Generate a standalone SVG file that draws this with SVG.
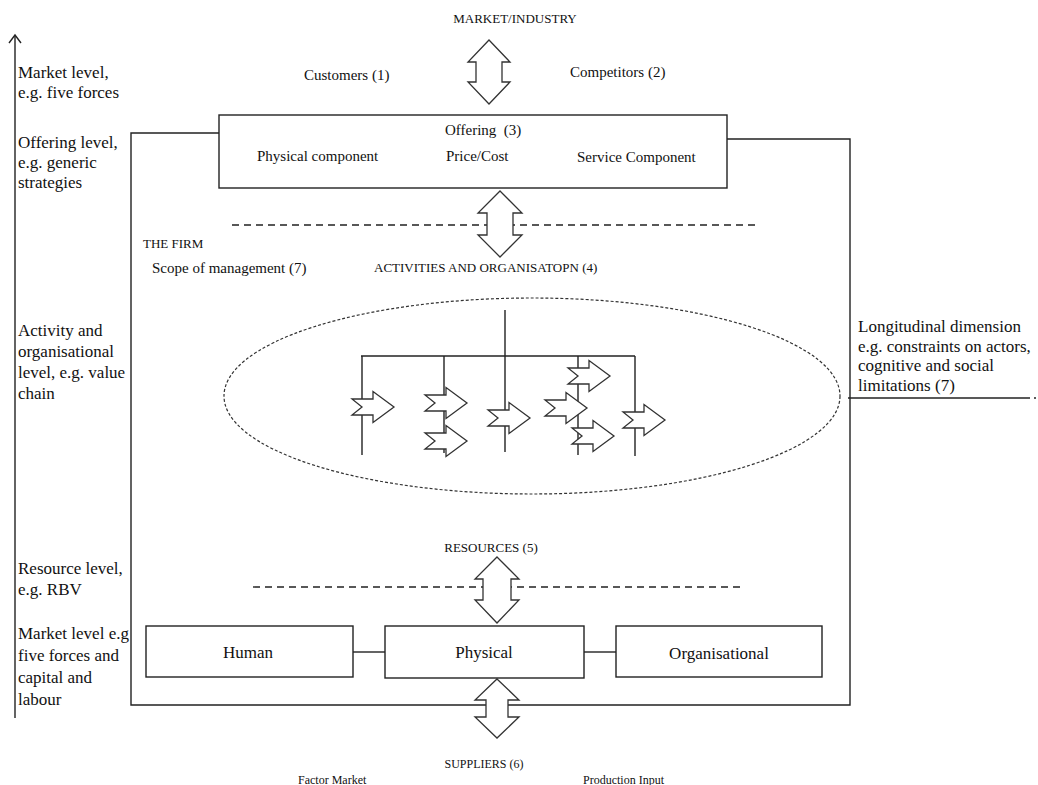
<svg xmlns="http://www.w3.org/2000/svg" width="1038" height="785" viewBox="0 0 1038 785">
<style>
.t{font-family:"Liberation Serif","Times New Roman",serif;fill:#111}
.lab{font-size:17px}
.in{font-size:15px}
.cap{font-size:13px}
.sm{font-size:12px}
.box{fill:#fff;stroke:#222;stroke-width:1.4}
.ln{fill:none;stroke:#222;stroke-width:1.4}
.dash{fill:none;stroke:#222;stroke-width:1.4;stroke-dasharray:7 5}
.arr{fill:#fff;stroke:#333;stroke-width:1.3}
</style>
<defs>
<path id="na" d="M0,-8 H21 V-15.5 L42,0 L21,15.5 V8 H0 L10,0 Z"/>
</defs>
<rect width="1038" height="785" fill="#fff"/>

<g id="axis">
<line class="ln" x1="15" y1="35" x2="15" y2="718"/>
<polyline class="ln" points="9,43 15,35 21,43"/>
<text class="t lab" x="18" y="78">Market level,</text>
<text class="t lab" x="18" y="98">e.g. five forces</text>
<text class="t lab" x="18" y="148">Offering level,</text>
<text class="t lab" x="18" y="168">e.g. generic</text>
<text class="t lab" x="18" y="188">strategies</text>
<text class="t lab" x="18" y="336">Activity and</text>
<text class="t lab" x="18" y="357">organisational</text>
<text class="t lab" x="18" y="378">level, e.g. value</text>
<text class="t lab" x="18" y="399">chain</text>
<text class="t lab" x="18" y="574">Resource level,</text>
<text class="t lab" x="18" y="595">e.g. RBV</text>
<text class="t lab" x="18" y="639">Market level e.g</text>
<text class="t lab" x="18" y="661">five forces and</text>
<text class="t lab" x="18" y="683">capital and</text>
<text class="t lab" x="18" y="705">labour</text>
</g>

<g id="connectors">
<polyline class="ln" points="219,133 131,133 131,705 850,705 850,139 727,139"/>
<line class="ln" x1="848" y1="398" x2="1030" y2="398"/>
<line class="ln" x1="1034" y1="398" x2="1036" y2="398"/>
<line class="dash" x1="232" y1="225" x2="755" y2="225"/>
<line class="dash" x1="253" y1="587" x2="744" y2="587"/>
<line class="ln" x1="353" y1="652" x2="385" y2="652"/>
<line class="ln" x1="584" y1="652" x2="616" y2="652"/>
<path class="arr" d="M489,40 L510,62 H502 V82 H510 L489,104 L468,82 H476 V62 H468 Z"/>
<path class="arr" d="M500,191 L522,213 H513 V235 H522 L500,257 L478,235 H487 V213 H478 Z"/>
<path class="arr" d="M497,557 L519,579 H511 V600 H519 L497,623 L475,600 H483 V579 H475 Z"/>
<path class="arr" d="M497,679 L519,700 H508 V717 H519 L497,738 L475,717 H486 V700 H475 Z"/>
</g>

<g id="market">
<text class="t cap" x="515" y="23" text-anchor="middle">MARKET/INDUSTRY</text>
<text class="t in" x="304" y="80">Customers (1)</text>
<text class="t in" x="570" y="77">Competitors (2)</text>
</g>

<g id="offering">
<rect class="box" x="219" y="115" width="508" height="73"/>
<text class="t in" x="445" y="135" xml:space="preserve">Offering  (3)</text>
<text class="t in" x="257" y="161">Physical component</text>
<text class="t in" x="446" y="161">Price/Cost</text>
<text class="t in" x="577" y="162">Service Component</text>
</g>

<g id="firm">
<text class="t cap" x="143" y="248">THE FIRM</text>
<text class="t in" x="152" y="273">Scope of management (7)</text>
<text class="t cap" x="374" y="272">ACTIVITIES AND ORGANISATOPN (4)</text>
</g>

<g id="activities">
<ellipse cx="532" cy="396" rx="308" ry="98" fill="none" stroke="#333" stroke-width="1.2" stroke-dasharray="3 2"/>
<line class="ln" x1="505" y1="310" x2="505" y2="452"/>
<line class="ln" x1="361" y1="356" x2="635" y2="356"/>
<line class="ln" x1="362" y1="356" x2="362" y2="455"/>
<line class="ln" x1="444" y1="356" x2="444" y2="453"/>
<line class="ln" x1="578" y1="356" x2="578" y2="455"/>
<line class="ln" x1="635" y1="356" x2="635" y2="456"/>
<use href="#na" class="arr" x="352" y="407"/>
<use href="#na" class="arr" x="425" y="403"/>
<use href="#na" class="arr" x="425" y="441"/>
<use href="#na" class="arr" x="488" y="418"/>
<use href="#na" class="arr" x="545" y="408"/>
<use href="#na" class="arr" x="568" y="376"/>
<use href="#na" class="arr" x="572" y="436"/>
<use href="#na" class="arr" x="623" y="420"/>
</g>

<g id="longitudinal">
<text class="t lab" x="858" y="332">Longitudinal dimension</text>
<text class="t lab" x="858" y="352">e.g. constraints on actors,</text>
<text class="t lab" x="858" y="371">cognitive and social</text>
<text class="t lab" x="858" y="391">limitations (7)</text>
</g>

<g id="resources">
<text class="t cap" x="491" y="552" text-anchor="middle">RESOURCES (5)</text>
</g>

<g id="human">
<rect class="box" x="146" y="626" width="207" height="51"/>
<text class="t lab" x="248" y="658" text-anchor="middle">Human</text>
</g>
<g id="physical">
<rect class="box" x="385" y="626" width="199" height="52"/>
<text class="t lab" x="484" y="658" text-anchor="middle">Physical</text>
</g>
<g id="organisational">
<rect class="box" x="616" y="626" width="206" height="51"/>
<text class="t lab" x="719" y="659" text-anchor="middle">Organisational</text>
</g>

<g id="suppliers">
<text class="t sm" x="484" y="768" text-anchor="middle">SUPPLIERS (6)</text>
<text class="t sm" x="298" y="784">Factor Market</text>
<text class="t sm" x="583" y="784">Production Input</text>
</g>
</svg>
